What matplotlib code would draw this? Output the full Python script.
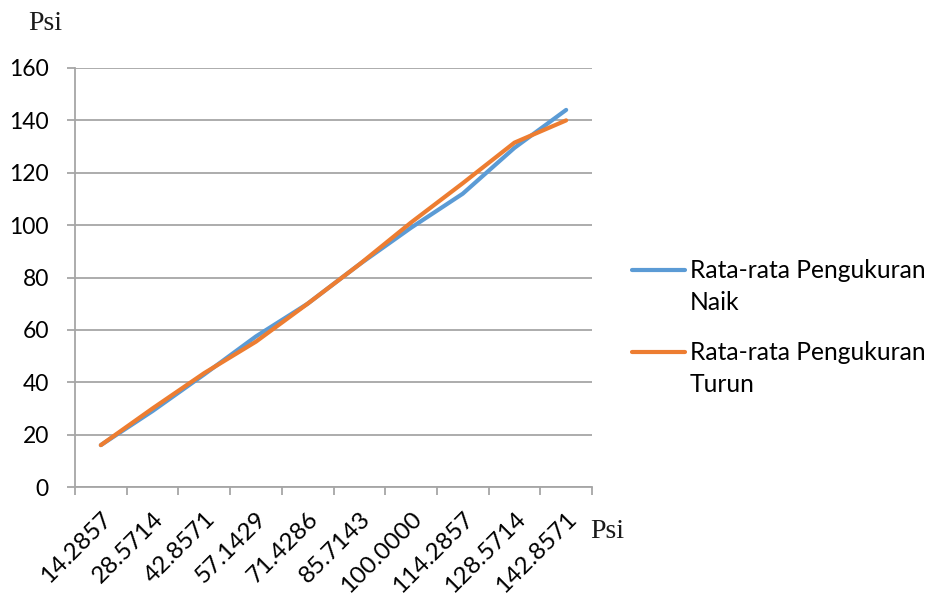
import matplotlib
matplotlib.use("Agg")
import matplotlib.pyplot as plt
from matplotlib.lines import Line2D

plt.rcParams['font.family'] = ['Lato', 'DejaVu Sans']

# tekanan acuan (Psi) dan rata-rata hasil pengukuran
labels = ["14.2857", "28.5714", "42.8571", "57.1429", "71.4286",
          "85.7143", "100.0000", "114.2857", "128.5714", "142.8571"]
naik = [16, 29, 43, 57.5, 70, 85, 99, 112, 129.5, 144]
turun = [16, 30, 43.5, 55.5, 70, 85, 101, 116, 131.5, 140]

blue = "#5B9BD5"
orange = "#ED7D31"
grid_c = "#A6A6A6"

fig = plt.figure(figsize=(9.31, 5.96), dpi=100)
ax = fig.add_axes([75 / 931, 1 - 487 / 596, (592 - 75) / 931, (487 - 68) / 596])

x = list(range(len(labels)))
ax.plot(x, naik, color=blue, lw=3, solid_capstyle="round", solid_joinstyle="round", zorder=3)
ax.plot(x, turun, color=orange, lw=3, solid_capstyle="round", solid_joinstyle="round", zorder=4)

ax.set_xlim(-0.5, len(labels) - 0.5)
ax.set_ylim(0, 160)
ax.set_yticks(range(0, 161, 20))
ax.yaxis.grid(True, color=grid_c, lw=1.3)
ax.set_axisbelow(True)

# garis batas kategori di sumbu x, label di tengah kategori
ax.set_xticks([i - 0.5 for i in range(len(labels) + 1)])
ax.set_xticklabels([])
ax.set_xticks(x, minor=True)
ax.set_xticklabels(labels, minor=True, rotation=45, ha="right", va="top",
                   rotation_mode="anchor", fontsize=17.5)
ax.tick_params(axis="x", which="major", length=5.5, width=1.3, color=grid_c, direction="out")
ax.tick_params(axis="x", which="minor", length=0, pad=15)
ax.tick_params(axis="y", length=5.8, width=1.3, color=grid_c, pad=13, labelsize=16.5)

for s in ["top", "right"]:
    ax.spines[s].set_visible(False)
for s in ["left", "bottom"]:
    ax.spines[s].set_color(grid_c)
    ax.spines[s].set_linewidth(1.3)

# satuan sumbu
fig.text(45 / 931, 1 - 24 / 596, "Psi", family="Liberation Serif", fontsize=20,
         ha="center", va="center", color="#1a1a1a")
fig.text(607 / 931, 1 - 531 / 596, "Psi", family="Liberation Serif", fontsize=20,
         ha="center", va="center", color="#1a1a1a")

# legenda
entries = [(blue, "Rata-rata Pengukuran", "Naik", 270),
           (orange, "Rata-rata Pengukuran", "Turun", 352)]
for c, l1, l2, yp in entries:
    fig.add_artist(Line2D([632 / 931, 685 / 931], [1 - yp / 596, 1 - yp / 596],
                          transform=fig.transFigure, color=c, lw=3, solid_capstyle="round"))
    fig.text(690 / 931, 1 - yp / 596, l1, fontsize=17.7, ha="left", va="center")
    fig.text(690 / 931, 1 - (yp + 32) / 596, l2, fontsize=17.7, ha="left", va="center")

fig.savefig("out.png", dpi=100, facecolor="white")
